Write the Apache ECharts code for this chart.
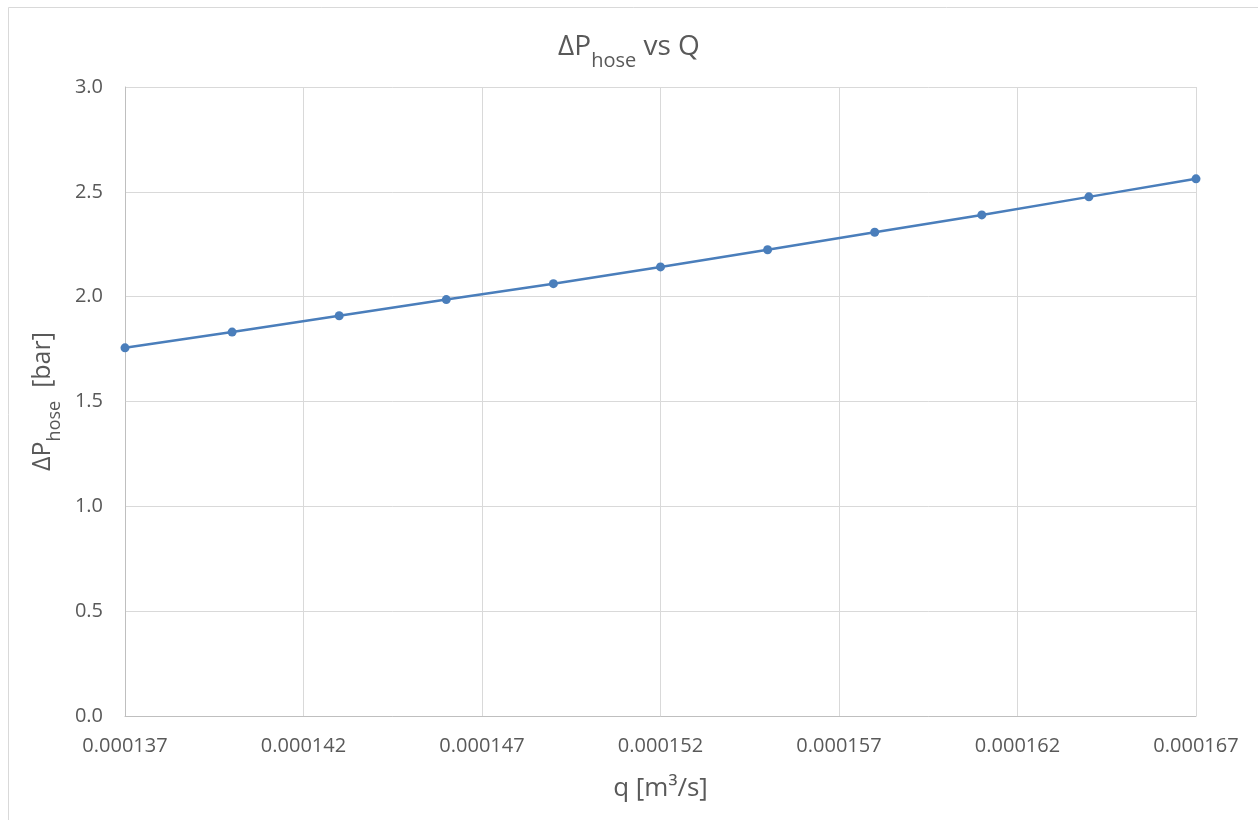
<!DOCTYPE html>
<html>
<head>
<meta charset="utf-8">
<script src="https://cdn.jsdelivr.net/npm/echarts@6/dist/echarts.min.js"></script>
<style>
  html, body { margin: 0; padding: 0; background: #fff; }
  #chart { width: 1258px; height: 820px; }
</style>
</head>
<body>
<div id="chart"></div>
<script>
// Flow rate q [m^3/s]
const flowRates = [0.000137, 0.000140, 0.000143, 0.000146, 0.000149, 0.000152,
                   0.000155, 0.000158, 0.000161, 0.000164, 0.000167];
// Hose pressure drop [bar]
const pressureDrop = [1.756, 1.831, 1.909, 1.986, 2.062, 2.142,
                      2.224, 2.307, 2.390, 2.476, 2.562];

const xMin = 0.000137, xMax = 0.000167, xStep = 0.000005;
const yMin = 0, yMax = 3.0, yStep = 0.5;

const textColor = '#595959';
const fontFamily = '"Open Sans", "Liberation Sans", sans-serif';

// rich styles for "ΔP" with a lowered "hose" subscript
const subRich = (big, small, drop) => ({
  a: { fontSize: big, color: textColor, fontFamily: fontFamily, fontWeight: 'normal', lineHeight: big + 8, verticalAlign: 'bottom' },
  s: { fontSize: small, color: textColor, fontFamily: fontFamily, fontWeight: 'normal', lineHeight: big + 8, verticalAlign: 'bottom', padding: [0, 0, -drop, 0] }
});

const chart = echarts.init(document.getElementById('chart'));

chart.setOption({
  animation: false,
  backgroundColor: '#fff',
  textStyle: { fontFamily: fontFamily, color: textColor },
  graphic: [{
    type: 'rect',
    shape: { x: 8.5, y: 7.5, width: 1300, height: 900 },
    style: { fill: 'none', stroke: '#d9d9d9', lineWidth: 1 },
    silent: true,
    z: -1
  }],
  title: {
    text: '{a|ΔP}{s|hose}{a| vs Q}',
    left: 'center',
    top: 20,
    textStyle: { fontWeight: 'normal', rich: subRich(28, 20, 10) }
  },
  grid: { left: 125, right: 62, top: 87, bottom: 104, containLabel: false },
  xAxis: {
    type: 'value',
    min: xMin,
    max: xMax,
    interval: xStep,
    name: 'q [m³/s]',
    nameLocation: 'middle',
    nameGap: 60,
    nameTextStyle: { fontSize: 26, color: textColor, fontFamily: fontFamily },
    axisLine: { show: true, lineStyle: { color: '#bfbfbf', width: 1 } },
    axisTick: { show: false },
    axisLabel: {
      fontSize: 20, color: textColor, margin: 20,
      formatter: v => v.toFixed(6)
    },
    splitLine: { show: true, lineStyle: { color: '#d9d9d9', width: 1 } }
  },
  yAxis: {
    type: 'value',
    min: yMin,
    max: yMax,
    interval: yStep,
    name: '{a|ΔP}{s|hose}{a|  [bar]}',
    nameLocation: 'middle',
    nameRotate: 90,
    nameGap: 66,
    nameTextStyle: { rich: subRich(25, 18, 9) },
    axisLine: { show: true, lineStyle: { color: '#bfbfbf', width: 1 } },
    axisTick: { show: false },
    axisLabel: {
      fontSize: 20, color: textColor, margin: 22,
      formatter: v => v.toFixed(1)
    },
    splitLine: { show: true, lineStyle: { color: '#d9d9d9', width: 1 } }
  },
  series: [{
    type: 'line',
    data: flowRates.map((q, i) => [q, pressureDrop[i]]),
    symbol: 'circle',
    symbolSize: 9,
    showSymbol: true,
    lineStyle: { color: '#4a7ebb', width: 2.5 },
    itemStyle: { color: '#4a7ebb' }
  }]
});
</script>
</body>
</html>
